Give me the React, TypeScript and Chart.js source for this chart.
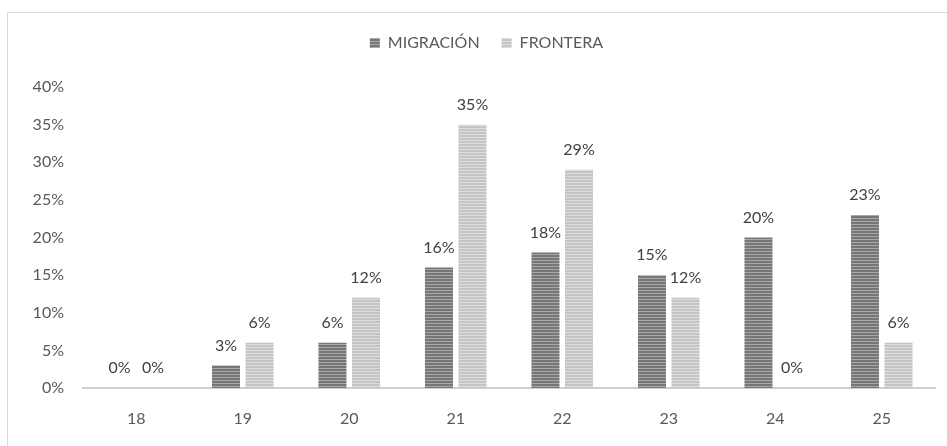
import React, { useEffect, useRef } from "react";
import { Chart, registerables } from "chart.js";

Chart.register(...registerables);

const categories = ["18", "19", "20", "21", "22", "23", "24", "25"];
const migracion = [0, 3, 6, 16, 18, 15, 20, 23];
const frontera = [0, 6, 12, 35, 29, 12, 0, 6];
const seriesNames = ["MIGRACIÓN", "FRONTERA"];
const yTicks = [0, 5, 10, 15, 20, 25, 30, 35, 40];

const FONT = "Lato, 'Open Sans', sans-serif";
const FS = 16;

function stripe(c1: string, c2: string): CanvasPattern | string {
  const cv = document.createElement("canvas");
  cv.width = 4;
  cv.height = 3;
  const g = cv.getContext("2d");
  if (!g) return c1;
  g.fillStyle = c1;
  g.fillRect(0, 0, 4, 2);
  g.fillStyle = c2;
  g.fillRect(0, 2, 4, 1);
  const p = g.createPattern(cv, "repeat");
  return p || c1;
}

const dataLabels = {
  id: "dataLabels",
  afterDatasetsDraw(chart: any) {
    const ctx = chart.ctx;
    ctx.save();
    ctx.font = `${FS}px ${FONT}`;
    ctx.fillStyle = "#404040";
    ctx.textAlign = "center";
    ctx.textBaseline = "middle";
    chart.data.datasets.forEach((ds: any, di: number) => {
      const meta = chart.getDatasetMeta(di);
      meta.data.forEach((bar: any, i: number) => {
        ctx.fillText(ds.data[i] + "%", bar.x, bar.y - 20);
      });
    });
    ctx.restore();
  },
};

const legendSpacer = {
  id: "legendSpacer",
  afterInit(chart: any) {
    const lg = chart.legend;
    if (!lg || lg.__patched) return;
    const orig = lg.fit;
    lg.fit = function () {
      orig.call(this);
      this.height += 26;
    };
    lg.__patched = true;
  },
  afterLayout(chart: any) {
    const lg = chart.legend;
    if (lg) lg.left += 38;
  },
};

export default function App() {
  const ref = useRef<HTMLCanvasElement>(null);
  useEffect(() => {
    if (!ref.current) return;
    const darkP = stripe("#767676", "#a8a8a8");
    const lightP = stripe("#c4c4c4", "#dedede");
    const chart = new Chart(ref.current, {
      type: "bar",
      data: {
        labels: categories,
        datasets: [
          {
            label: seriesNames[0],
            data: migracion,
            backgroundColor: darkP as any,
            categoryPercentage: 0.63,
            barPercentage: 0.835,
          },
          {
            label: seriesNames[1],
            data: frontera,
            backgroundColor: lightP as any,
            categoryPercentage: 0.63,
            barPercentage: 0.835,
          },
        ],
      },
      options: {
        animation: false,
        responsive: false,
        maintainAspectRatio: false,
        layout: { padding: { left: 0, right: 12, top: 13, bottom: 0 } },
        plugins: {
          legend: {
            display: true,
            position: "top",
            labels: {
              boxWidth: 10,
              boxHeight: 10,
              padding: 22,
              color: "#595959",
              font: { family: FONT, size: FS },
            },
          },
          tooltip: { enabled: false },
        },
        scales: {
          x: {
            afterFit(scale: any) {
              scale.height = 58;
            },
            grid: { display: false, drawTicks: false },
            border: { display: true, color: "#cfcfcf", width: 2 },
            ticks: {
              color: "#595959",
              font: { family: FONT, size: FS },
              padding: 21,
            },
          },
          y: {
            min: 0,
            max: 40,
            afterBuildTicks(scale: any) {
              scale.ticks = yTicks.map((v) => ({ value: v }));
            },
            afterFit(scale: any) {
              scale.width = 83;
            },
            grid: { display: false, drawTicks: false },
            border: { display: false },
            ticks: {
              color: "#595959",
              font: { family: FONT, size: FS },
              padding: 19,
              callback: (v: any) => v + "%",
            },
          },
        },
      },
      plugins: [dataLabels, legendSpacer],
    });
    return () => chart.destroy();
  }, []);

  return (
    <div
      style={{
        position: "fixed",
        left: 0,
        top: 0,
        width: 947,
        height: 446,
        overflow: "hidden",
        background: "#ffffff",
      }}
    >
      <div
        style={{
          position: "absolute",
          left: 7,
          top: 12,
          width: 1000,
          height: 1000,
          border: "1px solid #d9d9d9",
        }}
      />
      <canvas
        ref={ref}
        width={947}
        height={446}
        style={{ position: "absolute", left: 0, top: 0, width: 947, height: 446 }}
      />
    </div>
  );
}
